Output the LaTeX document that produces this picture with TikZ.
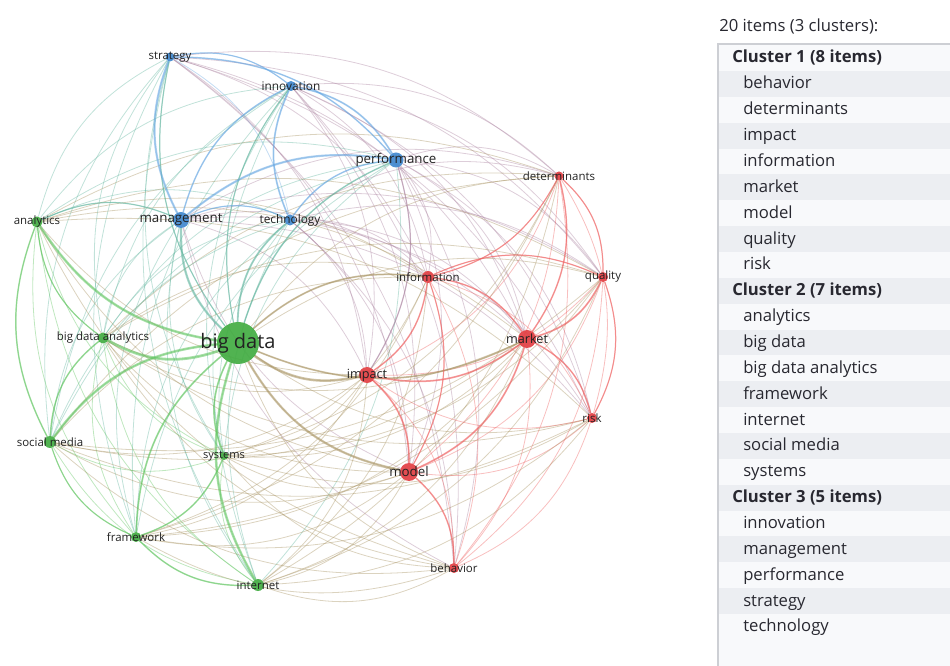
\documentclass[tikz,border=0pt]{standalone}
\usepackage{fontspec}
\setmainfont{Open Sans}
\pgfdeclarelayer{edges}
\pgfsetlayers{edges,main}
\definecolor{nd1}{RGB}{226,62,66}
\definecolor{nd2}{RGB}{66,172,66}
\definecolor{nd3}{RGB}{64,136,206}
\definecolor{ed1}{RGB}{238,95,95}
\definecolor{ed2}{RGB}{95,196,95}
\definecolor{ed3}{RGB}{105,168,226}
\definecolor{labtxt}{RGB}{34,34,34}
\definecolor{pantxt}{RGB}{40,40,48}
\definecolor{rowgray}{RGB}{236,238,242}
\definecolor{rowwhite}{RGB}{248,249,251}
\definecolor{framegray}{RGB}{205,207,212}
\def\XX{{170,291,396,559,181,290,37,428,603,103,238,527,367,592,50,224,409,136,454,258}}
\def\YY{{57,86,160,176,220,220,222,277,277,338,343,339,375,418,442,456,472,537,568,585}}
\def\CC{{3,3,3,1,3,3,2,1,1,2,2,1,1,1,2,2,1,2,1,2}}
\newcommand\vosedge[4]{%
  \pgfmathsetmacro\vxa{\XX[#1-1]}%
  \pgfmathsetmacro\vya{\YY[#1-1]}%
  \pgfmathsetmacro\vxb{\XX[#2-1]}%
  \pgfmathsetmacro\vyb{\YY[#2-1]}%
  \pgfmathsetmacro\vcrs{((\vxb-\vxa)/10)*((330-\vya)/10)-((\vyb-\vya)/10)*((310-\vxa)/10)}%
  \pgfmathtruncatemacro\ecA{\CC[#1-1]}%
  \pgfmathtruncatemacro\ecB{\CC[#2-1]}%
  \ifdim\vcrs pt>0pt\def\vbd{left}\else\def\vbd{right}\fi
  \draw[vosline, draw=ed\ecA!50!ed\ecB, line width=#3, draw opacity=#4] (n#1) to[bend \vbd=24] (n#2);%
}
\tikzset{
  dot/.style={circle, inner sep=0pt, draw=none, fill opacity=0.92},
  lab/.style={inner sep=0pt, text=labtxt},
  vosline/.style={line cap=round},
  pantext/.style={anchor=base west, inner sep=0pt, text=pantxt, font=\fontsize{12.5}{14}\selectfont},
  panhead/.style={pantext, font=\fontsize{12.5}{14}\selectfont\bfseries},
}
\begin{document}
\begin{tikzpicture}[x=0.75pt,y=-0.75pt]
\useasboundingbox (0,0) rectangle (950,666);
% nodes
\foreach \i/\t/\x/\y/\d/\c/\f in {
1/strategy/170/57/9/3/8.6,
2/innovation/291/86/10/3/8.9,
3/performance/396/160/15/3/10,
4/determinants/559/176/9/1/8.6,
5/management/181/220/16/3/10,
6/technology/290/220/11/3/8.9,
7/analytics/37/222/11/2/8.6,
8/information/428/277/12/1/8.6,
9/quality/603/277/10/1/8.6,
10/big data analytics/103/338/11/2/8.6,
11/big data/238/343/42/2/15,
12/market/527/339/18/1/9.5,
13/impact/367/375/16/1/9.5,
14/risk/592/418/10/1/8.6,
15/social media/50/442/12/2/8.6,
16/systems/224/456/8/2/8.3,
17/model/409/472/18/1/10,
18/framework/136/537/10/2/8.6,
19/behavior/454/568/10/1/8.6,
20/internet/258/585/12/2/8.6}{
  \node[dot, fill=nd\c, minimum size={\d*0.75pt}] (n\i) at (\x,\y) {};
  \node[lab, font=\fontsize{\f}{\f}\selectfont] (l\i) at (n\i) {\t};
}
% edges
\begin{pgfonlayer}{edges}
\foreach \i in {1,...,19}{
  \pgfmathtruncatemacro\s{\i+1}
  \foreach \j in {\s,...,20}{
    \vosedge{\i}{\j}{0.6pt}{0.4}
  }
}
\foreach \i/\j/\w in {
11/7/1.9pt, 11/10/2.1pt, 11/15/1.9pt, 11/20/1.9pt, 11/18/1.3pt, 11/16/1.3pt,
11/5/1.7pt, 11/6/1.4pt, 11/13/1.9pt, 11/17/1.7pt, 11/8/1.3pt, 11/12/1.3pt,
11/3/1.1pt, 11/2/0.9pt, 11/1/0.9pt,
1/5/1.6pt, 1/2/0.9pt, 1/3/1.1pt, 2/3/1.3pt, 2/6/1.3pt, 3/5/1.6pt, 2/5/1.1pt,
3/6/1.1pt, 5/6/0.9pt, 5/7/0.9pt,
7/15/1.1pt, 7/10/0.9pt, 15/10/1.1pt, 15/18/0.9pt, 18/20/1.1pt, 16/18/1.1pt,
12/9/1.3pt, 12/8/1.1pt, 12/13/1.3pt, 13/17/1.3pt, 12/17/1.3pt, 4/12/1.1pt,
14/12/1.1pt, 19/17/1.1pt, 8/13/1.1pt, 4/9/0.9pt, 9/8/0.9pt, 14/9/0.9pt,
4/8/0.9pt, 13/3/0.9pt, 8/17/0.9pt}{
  \vosedge{\i}{\j}{\w}{0.55}
}
\end{pgfonlayer}
% panel
\node[pantext] (title) at (719,32) {20 items (3 clusters):};
\fill[rowwhite] (718,44) rectangle (950,666);
\foreach \k/\t/\h in {
0/Cluster 1 (8 items)/1, 1/behavior/0, 2/determinants/0, 3/impact/0,
4/information/0, 5/market/0, 6/model/0, 7/quality/0, 8/risk/0,
9/Cluster 2 (7 items)/1, 10/analytics/0, 11/big data/0, 12/big data analytics/0,
13/framework/0, 14/internet/0, 15/social media/0, 16/systems/0,
17/Cluster 3 (5 items)/1, 18/innovation/0, 19/management/0, 20/performance/0,
21/strategy/0, 22/technology/0}{
  \pgfmathsetmacro\yc{58+\k*25.86}
  \pgfmathtruncatemacro\odd{mod(\k,2)}
  \ifnum\odd=1 \fill[rowgray] (719,\yc-12.93) rectangle (950,\yc+12.93);\fi
  \ifnum\h=1
    \node[panhead] (row\k) at (732,\yc+5) {\t};
  \else
    \node[pantext] (row\k) at (743,\yc+5) {\t};
  \fi
}
\draw[framegray, line width=0.9pt] (950,44) -- (718,44) -- (718,666);
\end{tikzpicture}
\end{document}
